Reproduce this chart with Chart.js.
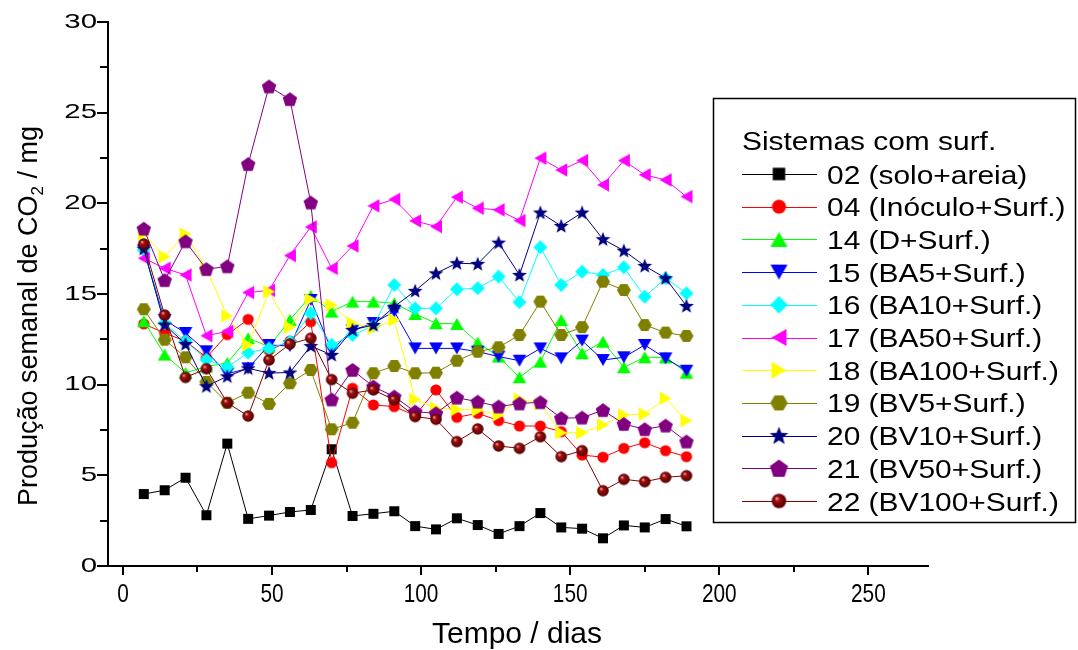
<!DOCTYPE html>
<html>
<head>
<meta charset="utf-8">
<title>Producao semanal de CO2</title>
<script src="https://cdn.jsdelivr.net/npm/chart.js@4.4.1/dist/chart.umd.min.js"></script>
<style>
	body { margin: 0; background: #fff; }
	#mycanvas { display: block; }
</style>
</head>
<body>
<canvas id="mycanvas" width="1078" height="650"></canvas>
<script>
// dias de incubacao
var dias = [7,14,21,28,35,42,49,56,63,70,77,84,91,98,105,112,119,126,133,140,147,154,161,168,175,182,189];

var s02 = [3.97,4.18,4.87,2.8,6.75,2.6,2.78,2.98,3.09,6.44,2.76,2.88,3.02,2.2,2.02,2.63,2.26,1.77,2.2,2.92,2.13,2.06,1.53,2.24,2.13,2.59,2.19];
var s04 = [13.35,12.85,12.4,11.5,12.76,13.6,11.9,12.4,13.47,5.7,9.8,8.88,8.79,8.3,9.71,8.2,8.42,8.02,7.72,7.72,7.41,6.12,6.0,6.49,6.8,6.36,6.03];
var s14 = [13.5,11.66,10.65,11.0,11.2,12.56,12.1,13.57,14.9,14.03,14.58,14.58,14.49,13.9,13.39,13.35,12.32,11.55,10.41,11.27,13.57,11.73,12.37,10.96,11.51,11.5,10.66];
var s15 = [17.4,13.57,12.85,11.84,10.6,10.9,12.19,12.13,14.67,11.9,13.0,13.4,14.03,12.0,12.0,12.0,11.82,11.55,11.32,12.0,11.45,12.43,11.36,11.51,12.19,11.45,10.77];
var s16 = [17.43,13.4,12.4,11.38,10.96,11.77,12.0,12.37,13.94,12.2,12.74,13.24,15.5,14.21,14.21,15.26,15.32,15.96,14.55,17.58,15.5,16.23,16.05,16.47,14.85,15.87,15.04];
var s17 = [16.97,16.42,16.05,12.7,12.94,15.08,15.2,17.12,18.7,16.42,17.65,19.86,20.22,19.03,18.72,20.34,19.73,19.64,19.05,22.49,21.84,22.36,21.02,22.36,21.57,21.29,20.37];
var s18 = [18.3,17.06,18.31,16.4,13.8,12.19,15.13,13.17,14.71,14.4,13.39,13.11,13.57,9.19,8.7,8.64,8.6,8.33,9.2,8.94,7.35,7.35,7.78,8.33,8.38,9.25,8.02];
var s19 = [14.16,12.48,11.51,10.15,9.0,9.56,8.94,10.08,10.81,7.54,7.9,10.63,11.03,10.63,10.66,11.32,11.82,12.06,12.74,14.58,12.74,13.17,15.68,15.22,13.29,12.87,12.69];
var s20 = [17.5,13.31,12.24,9.91,10.46,10.9,10.64,10.67,12.13,11.64,13.02,13.29,14.3,15.17,16.14,16.7,16.66,17.83,16.05,19.49,18.75,19.49,18.02,17.39,16.55,15.87,14.34];
var s21 = [18.6,15.76,17.9,16.37,16.52,22.16,26.44,25.74,20.04,9.18,10.81,9.89,9.34,8.51,8.42,9.28,9.06,8.79,8.96,9.03,8.15,8.18,8.59,7.83,7.54,7.74,6.86];
var s22 = [17.76,13.84,10.4,10.88,9.0,8.27,11.36,12.24,12.56,10.28,9.53,9.71,9.16,8.24,8.09,6.86,7.56,6.62,6.49,7.13,6.03,6.36,4.15,4.78,4.65,4.89,4.98];

var nomes = ["02 (solo+areia)","04 (Inóculo+Surf.)","14 (D+Surf.)","15 (BA5+Surf.)","16 (BA10+Surf.)","17 (BA50+Surf.)","18 (BA100+Surf.)","19 (BV5+Surf.)","20 (BV10+Surf.)","21 (BV50+Surf.)","22 (BV100+Surf.)"];
var series = [s02,s04,s14,s15,s16,s17,s18,s19,s20,s21,s22];
var cores = ["#000000","#ff0000","#00ff00","#0000ff","#00ffff","#ff00ff","#ffff00","#808000","#000080","#800080","#800000"];
var simbolos = ["square","circle","up","down","diamond","left","right","hexagon","star","pentagon","sphere"];

var xTicks = [0,50,100,150,200,250];
var xMinor = [25,75,125,175,225];
var yTicks = [0,5,10,15,20,25,30];
var yMinor = [2.5,7.5,12.5,17.5,22.5,27.5];

// desenha um simbolo tipo Origin num canvas pequeno
function makeMarker(tipo, cor, k) {
	var size = Math.ceil(18 * k);
	var c = document.createElement('canvas');
	c.width = size; c.height = size;
	var ctx = c.getContext('2d');
	var cx = size / 2, cy = size / 2;
	ctx.fillStyle = cor;
	ctx.beginPath();
	var i, a, r;
	if (tipo == "square") {
		r = 5 * k;
		ctx.rect(cx - r, cy - r, 2 * r, 2 * r);
	} else if (tipo == "circle") {
		ctx.arc(cx, cy, 5.6 * k, 0, Math.PI * 2);
	} else if (tipo == "diamond") {
		r = 7 * k;
		ctx.moveTo(cx, cy - r); ctx.lineTo(cx + r, cy); ctx.lineTo(cx, cy + r); ctx.lineTo(cx - r, cy);
	} else if (tipo == "up" || tipo == "down" || tipo == "left" || tipo == "right") {
		var w = 6.8 * k, h = 6 * k;
		var pts = [[0,-h],[w,h],[-w,h]];
		var rot = {up:0, right:Math.PI/2, down:Math.PI, left:-Math.PI/2}[tipo];
		for (i = 0; i < 3; i++) {
			var px = pts[i][0] * Math.cos(rot) - pts[i][1] * Math.sin(rot);
			var py = pts[i][0] * Math.sin(rot) + pts[i][1] * Math.cos(rot);
			if (i == 0) ctx.moveTo(cx + px, cy + py); else ctx.lineTo(cx + px, cy + py);
		}
	} else if (tipo == "hexagon") {
		r = 7 * k;
		for (i = 0; i < 6; i++) {
			a = i * Math.PI / 3;
			ctx.lineTo(cx + r * Math.cos(a), cy + r * Math.sin(a));
		}
	} else if (tipo == "pentagon") {
		r = 7.6 * k;
		for (i = 0; i < 5; i++) {
			a = -Math.PI / 2 + i * 2 * Math.PI / 5;
			ctx.lineTo(cx + r * Math.cos(a), cy + r * Math.sin(a) + 0.6 * k);
		}
	} else if (tipo == "star") {
		r = 7.8 * k;
		for (i = 0; i < 10; i++) {
			a = -Math.PI / 2 + i * Math.PI / 5;
			var rr = (i % 2 == 0) ? r : r * 0.42;
			ctx.lineTo(cx + rr * Math.cos(a), cy + rr * Math.sin(a) + 0.5 * k);
		}
	} else if (tipo == "sphere") {
		r = 5.8 * k;
		var g = ctx.createRadialGradient(cx - 2 * k, cy - 2.2 * k, 0.3 * k, cx, cy, r);
		g.addColorStop(0, "#f0a0a0");
		g.addColorStop(0.3, "#a01010");
		g.addColorStop(1, "#500000");
		ctx.fillStyle = g;
		ctx.arc(cx, cy, r, 0, Math.PI * 2);
	}
	ctx.closePath();
	ctx.fill();
	return c;
}

var marcasGrafico = [], marcasLegenda = [];
for (var m = 0; m < simbolos.length; m++) {
	marcasGrafico.push(makeMarker(simbolos[m], cores[m], 1));
	marcasLegenda.push(makeMarker(simbolos[m], cores[m], 1.25));
}

var datasets = [];
for (var s = 0; s < series.length; s++) {
	var pontos = [];
	for (var i in dias) {
		pontos.push({x: dias[i], y: series[s][i]});
	}
	datasets.push({
		label: nomes[s],
		data: pontos,
		borderColor: cores[s],
		backgroundColor: cores[s],
		borderWidth: 1,
		pointStyle: marcasGrafico[s],
		pointRadius: 7,
		lineTension: 0,
		fill: false,
		order: series.length - s
	});
}

function textoEsticado(ctx, txt, x, y, sx) {
	ctx.save();
	ctx.translate(x, y);
	ctx.scale(sx, 1);
	ctx.fillText(txt, 0, 0);
	ctx.restore();
}

// eixos, rotulos e legenda desenhados a mao
var decoracao = {
	id: 'decoracao',
	afterDraw: function(chart) {
		var ctx = chart.ctx;
		var xs = chart.scales.x, ys = chart.scales.y;
		var area = chart.chartArea;
		var i, p;
		ctx.save();
		ctx.strokeStyle = "#000";
		ctx.fillStyle = "#000";
		ctx.lineWidth = 2;

		// marcas do eixo x
		ctx.beginPath();
		for (i = 0; i < xTicks.length; i++) {
			p = Math.round(xs.getPixelForValue(xTicks[i]));
			ctx.moveTo(p, area.bottom); ctx.lineTo(p, area.bottom + 9);
		}
		for (i = 0; i < xMinor.length; i++) {
			p = Math.round(xs.getPixelForValue(xMinor[i]));
			ctx.moveTo(p, area.bottom); ctx.lineTo(p, area.bottom + 6);
		}
		// marcas do eixo y
		for (i = 0; i < yTicks.length; i++) {
			p = Math.round(ys.getPixelForValue(yTicks[i]));
			ctx.moveTo(area.left, p); ctx.lineTo(area.left - 11, p);
		}
		for (i = 0; i < yMinor.length; i++) {
			p = Math.round(ys.getPixelForValue(yMinor[i]));
			ctx.moveTo(area.left, p); ctx.lineTo(area.left - 8, p);
		}
		ctx.stroke();

		// rotulos
		ctx.font = "26px 'Liberation Sans', Arial, sans-serif";
		ctx.textAlign = "center";
		ctx.textBaseline = "alphabetic";
		for (i = 0; i < xTicks.length; i++) {
			p = xs.getPixelForValue(xTicks[i]);
			textoEsticado(ctx, String(xTicks[i]), p, 602, 0.8);
		}
		ctx.font = "21px 'Liberation Sans', Arial, sans-serif";
		ctx.textAlign = "right";
		ctx.textBaseline = "middle";
		for (i = 0; i < yTicks.length; i++) {
			p = ys.getPixelForValue(yTicks[i]);
			textoEsticado(ctx, String(yTicks[i]), 97, p, 1.4);
		}

		// titulos dos eixos
		ctx.textBaseline = "alphabetic";
		ctx.textAlign = "center";
		ctx.font = "30px 'Liberation Sans', Arial, sans-serif";
		ctx.fillText("Tempo / dias", 517, 643);

		ctx.save();
		ctx.translate(37, 316);
		ctx.rotate(-Math.PI / 2);
		ctx.textAlign = "left";
		var fonteT = "27px 'Liberation Sans', Arial, sans-serif";
		var fonteSub = "17px 'Liberation Sans', Arial, sans-serif";
		ctx.font = fonteT;
		var t1 = "Produção semanal de CO", t3 = " / mg";
		var w1 = ctx.measureText(t1).width, w3 = ctx.measureText(t3).width;
		ctx.font = fonteSub;
		var w2 = ctx.measureText("2").width;
		var x0 = -(w1 + w2 + w3) / 2;
		ctx.font = fonteT;
		ctx.fillText(t1, x0, 0);
		ctx.font = fonteSub;
		ctx.fillText("2", x0 + w1, 6);
		ctx.font = fonteT;
		ctx.fillText(t3, x0 + w1 + w2, 0);
		ctx.restore();

		// legenda
		ctx.fillStyle = "#fff";
		ctx.fillRect(713, 98, 362, 424);
		ctx.lineWidth = 1.5;
		ctx.strokeStyle = "#000";
		ctx.strokeRect(713.5, 98.5, 362, 424);
		ctx.fillStyle = "#000";
		ctx.textAlign = "left";
		ctx.textBaseline = "alphabetic";
		ctx.font = "26px 'Liberation Sans', Arial, sans-serif";
		textoEsticado(ctx, "Sistemas com surf.", 742, 150, 1.15);
		for (i = 0; i < nomes.length; i++) {
			var cy = 174 + i * 32.7;
			ctx.strokeStyle = cores[i];
			ctx.lineWidth = 1;
			ctx.beginPath();
			ctx.moveTo(742, Math.round(cy) + 0.5);
			ctx.lineTo(817, Math.round(cy) + 0.5);
			ctx.stroke();
			var mk = marcasLegenda[i];
			ctx.drawImage(mk, 779 - mk.width / 2, cy - mk.height / 2);
			ctx.fillStyle = "#000";
			textoEsticado(ctx, nomes[i], 827, cy + 9.5, 1.15);
		}
		ctx.restore();
	}
};

var ctx = document.getElementById("mycanvas");

var LineGraph = new Chart(ctx, {
	type: 'line',
	data: { datasets: datasets },
	options: {
		responsive: false,
		animation: false,
		devicePixelRatio: 1,
		layout: { padding: { top: 22, right: 150, left: 0, bottom: 0 } },
		plugins: {
			legend: { display: false },
			tooltip: { enabled: false }
		},
		scales: {
			x: {
				type: 'linear',
				min: -5,
				max: 270,
				grid: { display: false, drawTicks: false },
				border: { display: true, color: '#000', width: 2 },
				ticks: { display: false },
				afterFit: function(scale) { scale.height = 84; }
			},
			y: {
				type: 'linear',
				min: 0,
				max: 30,
				grid: { display: false, drawTicks: false },
				border: { display: true, color: '#000', width: 2 },
				ticks: { display: false },
				afterFit: function(scale) { scale.width = 108; }
			}
		}
	},
	plugins: [decoracao]
});
</script>
</body>
</html>
